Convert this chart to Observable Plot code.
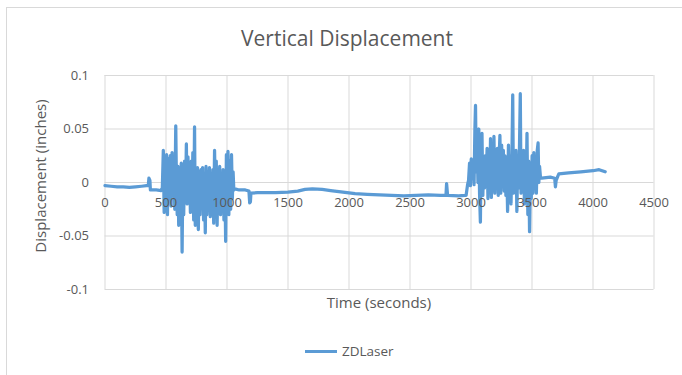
<!DOCTYPE html>
<html>
<head>
<meta charset="utf-8">
<script src="https://cdn.jsdelivr.net/npm/d3@7"></script>
<script src="https://cdn.jsdelivr.net/npm/@observablehq/plot@0.6"></script>
<style>
  html, body { margin: 0; padding: 0; background: #fff; }
  #wrap { position: relative; width: 682px; height: 375px; overflow: hidden; font-family: "Open Sans", sans-serif; color: #595959; }
  #frame { position: absolute; left: 6px; top: 7px; width: 700px; height: 400px; border: 1px solid #d9d9d9; box-sizing: border-box; }
  #title { position: absolute; left: 347px; top: 38px; transform: translate(-50%, -50%); font-size: 21px; white-space: nowrap; }
  #ylab { position: absolute; left: 40px; top: 176px; transform: translate(-50%, -50%) rotate(-90deg); font-size: 15px; white-space: nowrap; }
  #xlab { position: absolute; left: 379px; top: 302px; transform: translate(-50%, -50%); font-size: 15px; white-space: nowrap; }
  #legend { position: absolute; left: 305px; top: 351px; transform: translateY(-50%); display: flex; align-items: center; font-size: 13.5px; white-space: nowrap; }
  #legend .sw { width: 32px; height: 3px; background: #5B9BD5; margin-right: 5px; }
  #chart { position: absolute; left: 0; top: 0; }
</style>
</head>
<body>
<div id="wrap">
  <div id="frame"></div>
  <div id="chart"></div>
  <div id="title">Vertical Displacement</div>
  <div id="ylab">Displacement (inches)</div>
  <div id="xlab">Time (seconds)</div>
  <div id="legend"><div class="sw"></div><span>ZDLaser</span></div>
</div>
<script>
// ---- data ----
const seriesName = "ZDLaser";
const xTicks = [0, 500, 1000, 1500, 2000, 2500, 3000, 3500, 4000, 4500];
const yTicks = [-0.1, -0.05, 0, 0.05, 0.1];
const yTickLabels = ["-0.1", "-0.05", "0", "0.05", "0.1"];

const timeSec = [
  0, 50, 100, 150, 200, 250, 300, 340, 355, 360, 368, 372, 420, 460,
  470, 478, 485, 492, 498, 505, 512, 520, 528, 535, 542, 550, 557, 565, 572, 580,
  586, 592, 598, 604, 610, 618, 625, 632, 638, 645, 652, 660, 667, 673, 680, 687,
  694, 700, 707, 714, 720, 727, 734, 740, 746, 752, 758, 765, 772, 779, 786, 793,
  800, 808, 815, 822, 828, 835, 842, 849, 856, 863, 870, 877, 884, 891, 898, 905,
  912, 919, 926, 933, 940, 947, 954, 961, 968, 975, 982, 989, 995, 1001, 1008, 1015,
  1022, 1030, 1037, 1044, 1050, 1056, 1065,
  1100, 1150, 1180, 1186, 1192, 1196, 1250, 1300, 1400, 1500, 1580, 1640, 1700, 1780,
  1850, 1950, 2050, 2150, 2250, 2350, 2450, 2550, 2650, 2750, 2795, 2800, 2808, 2900, 2950,
  2960, 2972, 2980, 2988, 2995, 3002, 3010, 3018, 3025, 3032, 3037, 3043, 3050, 3057,
  3064, 3070, 3077, 3083, 3090, 3097, 3104, 3111, 3118, 3125, 3132, 3139, 3146, 3153,
  3160, 3167, 3174, 3181, 3188, 3195, 3202, 3209, 3216, 3223, 3230, 3237, 3244, 3251,
  3258, 3265, 3272, 3279, 3286, 3293, 3300, 3307, 3314, 3321, 3328, 3335, 3342, 3348,
  3355, 3362, 3369, 3376, 3383, 3390, 3397, 3404, 3410, 3417, 3424, 3431, 3438, 3445,
  3452, 3459, 3466, 3473, 3480, 3487, 3494, 3501, 3508, 3515, 3522, 3529, 3536, 3543,
  3550, 3556, 3562, 3570, 3580,
  3650, 3686, 3692, 3698, 3712, 3720, 3800, 3900, 4000, 4050, 4100
];

const displacement = [
  -0.003, -0.0035, -0.004, -0.004, -0.0045, -0.004, -0.0035, -0.003, -0.003, 0.004, 0.002, -0.007, -0.007, -0.0075,
  -0.005, 0.030, -0.028, 0.024, -0.020, 0.026, -0.030, 0.022, -0.015, 0.025, -0.022, 0.028, -0.010, 0.020, -0.025, 0.053,
  -0.005, -0.030, 0.015, -0.040, 0.010, -0.025, 0.018, -0.065, 0.005, -0.030, 0.020, -0.015, 0.036, -0.020, 0.024, -0.010,
  0.015, -0.028, 0.020, -0.012, 0.028, -0.035, 0.052, -0.040, 0.012, -0.020, 0.014, -0.044, 0.010, -0.030, 0.012, -0.022,
  0.014, -0.035, 0.008, -0.047, 0.015, -0.030, 0.010, -0.025, 0.014, -0.032, 0.008, -0.020, 0.012, -0.038, 0.030, -0.015,
  0.020, -0.040, 0.010, -0.025, 0.015, -0.030, 0.008, -0.020, 0.012, -0.035, 0.010, -0.055, 0.026, -0.020, 0.029, -0.030,
  0.020, -0.025, 0.026, -0.015, 0.010, -0.007, -0.006,
  -0.007, -0.007, -0.008, -0.019, -0.018, -0.010, -0.0095, -0.0095, -0.0095, -0.009, -0.008, -0.0065, -0.006, -0.0065,
  -0.0075, -0.009, -0.0105, -0.011, -0.0115, -0.012, -0.0125, -0.012, -0.0115, -0.012, -0.012, -0.001, -0.012, -0.0125, -0.012,
  -0.012, -0.002, 0.002, 0.018, -0.003, 0.022, 0.005, 0.018, -0.002, 0.050, 0.072, 0.010, 0.040, 0.000,
  0.050, -0.010, -0.037, 0.030, 0.046, -0.012, 0.020, -0.005, 0.025, 0.005, 0.032, -0.015, 0.020, -0.008,
  0.041, -0.014, 0.025, 0.000, 0.043, -0.010, 0.030, 0.005, 0.032, -0.012, 0.020, 0.044, -0.010, 0.035,
  0.005, 0.030, -0.008, 0.025, -0.012, 0.015, -0.027, 0.035, -0.005, 0.025, -0.020, 0.020, 0.082, -0.010,
  0.025, 0.000, 0.030, -0.027, 0.020, -0.005, 0.030, 0.083, -0.010, 0.025, 0.000, 0.030, -0.020, 0.020,
  -0.005, 0.046, -0.030, 0.020, -0.046, 0.010, -0.015, 0.025, -0.010, 0.028, -0.005, 0.020, -0.010, 0.030,
  0.037, 0.000, 0.015, 0.004, 0.004,
  0.005, 0.004, -0.004, 0.002, 0.006, 0.008, 0.009, 0.010, 0.011, 0.012, 0.010
];

const data = timeSec.map((t, i) => ({ t, v: displacement[i] }));
const labelOf = new Map(yTicks.map((d, i) => [d, yTickLabels[i]]));

const chart = Plot.plot({
  width: 682,
  height: 300,
  marginLeft: 104.5,
  marginRight: 28.5,
  marginTop: 75,
  marginBottom: 11,
  style: { fontFamily: "Open Sans, sans-serif", fontSize: "13px", color: "#595959", background: "transparent" },
  x: { domain: [0, 4500], axis: null },
  y: { domain: [-0.1, 0.1] },
  marks: [
    Plot.ruleX(xTicks, { x: d => d, stroke: "#d9d9d9", strokeWidth: 1, strokeOpacity: 1 }),
    Plot.ruleY(yTicks, { y: d => d, stroke: "#d9d9d9", strokeWidth: 1, strokeOpacity: 1 }),
    Plot.line(data, { x: "t", y: "v", stroke: "#5B9BD5", strokeWidth: 3.25, strokeLinejoin: "round", strokeLinecap: "round" }),
    Plot.axisY(yTicks, { tickSize: 0, tickPadding: 16, tickFormat: d => labelOf.get(d), label: null, fontSize: 13 }),
    Plot.text(xTicks, { x: d => d, y: () => 0, dy: 20.5, text: d => String(d), fontSize: 13, fill: "#595959" })
  ]
});
document.getElementById("chart").appendChild(chart);
</script>
</body>
</html>
